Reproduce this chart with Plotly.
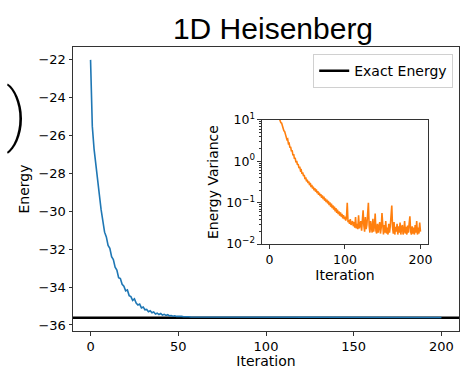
import plotly.graph_objects as go

# ---------------- data ----------------
iterations = list(range(201))

energy = [
    -22.00, -25.50, -26.70, -27.60, -28.40, -29.10, -29.90, -30.50, -31.10, -31.35,
    -31.80, -31.95, -32.40, -32.55, -32.95, -33.10, -33.50, -33.55, -33.85, -33.95,
    -34.20, -34.15, -34.45, -34.50, -34.70, -34.62, -34.85, -34.95, -34.90, -35.10,
    -35.05, -35.20, -35.18, -35.30, -35.25, -35.36, -35.32, -35.42, -35.38, -35.45,
    -35.40, -35.48, -35.44, -35.50, -35.46, -35.52, -35.50, -35.54, -35.52, -35.55,
    -35.54, -35.56, -35.55, -35.57, -35.56, -35.58, -35.57, -35.58, -35.58, -35.59,
    -35.58, -35.59, -35.60, -35.59, -35.60, -35.59, -35.60, -35.61, -35.60, -35.59,
    -35.60, -35.61, -35.60, -35.60, -35.59, -35.61, -35.60, -35.60, -35.61, -35.60,
    -35.59, -35.60, -35.61, -35.60, -35.61, -35.60, -35.60, -35.59, -35.61, -35.60,
    -35.61, -35.60, -35.60, -35.61, -35.60, -35.61, -35.60, -35.59, -35.61, -35.60,
    -35.61, -35.60, -35.61, -35.60, -35.60, -35.61, -35.61, -35.60, -35.61, -35.60,
    -35.61, -35.60, -35.61, -35.61, -35.60, -35.61, -35.60, -35.61, -35.61, -35.60,
    -35.61, -35.61, -35.60, -35.61, -35.60, -35.61, -35.61, -35.60, -35.61, -35.61,
    -35.60, -35.61, -35.61, -35.60, -35.61, -35.61, -35.60, -35.61, -35.61, -35.61,
    -35.60, -35.61, -35.61, -35.61, -35.60, -35.61, -35.61, -35.60, -35.61, -35.61,
    -35.61, -35.60, -35.61, -35.61, -35.61, -35.60, -35.61, -35.61, -35.61, -35.60,
    -35.61, -35.61, -35.61, -35.61, -35.60, -35.61, -35.61, -35.61, -35.60, -35.61,
    -35.61, -35.61, -35.61, -35.60, -35.61, -35.61, -35.61, -35.61, -35.60, -35.61,
    -35.61, -35.61, -35.61, -35.61, -35.60, -35.61, -35.61, -35.61, -35.61, -35.60,
    -35.61, -35.61, -35.61, -35.61, -35.61, -35.60, -35.61, -35.61, -35.61, -35.61,
    -35.61,
]

exact_energy = -35.618

variance = [
    80.0, 60.0, 48.0, 40.0, 34.0, 29.0, 25.0, 22.0, 19.5, 17.5,
    15.5, 14.0, 12.5, 11.2, 10.0, 8.6, 8.4, 6.9, 6.8, 5.5,
    5.3, 4.3, 4.3, 3.4, 3.5, 2.7, 2.75, 2.15, 2.25, 1.75,
    1.85, 1.40, 1.50, 1.15, 1.22, 0.95, 1.02, 0.82, 0.86, 0.69,
    0.74, 0.60, 0.62, 0.50, 0.54, 0.44, 0.47, 0.37, 0.41, 0.33,
    0.36, 0.30, 0.33, 0.265, 0.30, 0.24, 0.27, 0.22, 0.245, 0.20,
    0.225, 0.185, 0.21, 0.17, 0.19, 0.155, 0.175, 0.145, 0.160, 0.132,
    0.150, 0.122, 0.140, 0.112, 0.128, 0.104, 0.118, 0.096, 0.110, 0.088,
    0.102, 0.080, 0.095, 0.074, 0.086, 0.068, 0.080, 0.062, 0.074, 0.057,
    0.068, 0.053, 0.062, 0.049, 0.058, 0.046, 0.054, 0.042, 0.050, 0.040,
    0.046, 0.037, 0.045, 0.100, 0.034, 0.038, 0.031, 0.040, 0.029, 0.033,
    0.036, 0.027, 0.034, 0.025, 0.045, 0.024, 0.031, 0.023, 0.050, 0.024,
    0.028, 0.036, 0.021, 0.040, 0.066, 0.028, 0.020, 0.045, 0.023, 0.029,
    0.050, 0.100, 0.028, 0.019, 0.036, 0.023, 0.019, 0.041, 0.020, 0.027,
    0.055, 0.021, 0.018, 0.031, 0.019, 0.026, 0.034, 0.018, 0.025, 0.056,
    0.020, 0.017, 0.029, 0.019, 0.036, 0.018, 0.025, 0.017, 0.031, 0.019,
    0.027, 0.040, 0.085, 0.026, 0.018, 0.034, 0.017, 0.026, 0.020, 0.031,
    0.017, 0.027, 0.019, 0.033, 0.017, 0.025, 0.029, 0.017, 0.021, 0.036,
    0.018, 0.026, 0.017, 0.028, 0.019, 0.031, 0.047, 0.020, 0.017, 0.027,
    0.018, 0.025, 0.017, 0.029, 0.019, 0.036, 0.017, 0.025, 0.018, 0.033,
    0.020,
]

main_xticks = [0, 50, 100, 150, 200]
main_yticks = [-36, -34, -32, -30, -28, -26, -24, -22]
inset_xticks = [0, 100, 200]
inset_yticks = [0.01, 0.1, 1, 10]
inset_yticklabels = ["10<sup>−2</sup>", "10<sup>−1</sup>", "10<sup>0</sup>", "10<sup>1</sup>"]

x_range = [-10, 210]
y_range = [-36.32, -21.32]

# ---------------- figure ----------------
tick_font = dict(family="DejaVu Sans", size=13, color="black")
label_font = dict(family="DejaVu Sans", size=14, color="black")

fig = go.Figure()

fig.add_trace(go.Scatter(
    x=x_range, y=[exact_energy, exact_energy], mode="lines",
    line=dict(color="black", width=2.6), name="Exact Energy",
    xaxis="x", yaxis="y", showlegend=True,
))
fig.add_trace(go.Scatter(
    x=iterations, y=energy, mode="lines",
    line=dict(color="#1f77b4", width=1.6), name="Energy",
    xaxis="x", yaxis="y", showlegend=False,
))
fig.add_trace(go.Scatter(
    x=iterations, y=variance, mode="lines",
    line=dict(color="#ff7f0e", width=1.6), name="Energy Variance",
    xaxis="x2", yaxis="y2", showlegend=False,
))

minor_vals = [m * 10.0 ** e for e in (-2, -1, 0) for m in range(2, 10)]

axis_common = dict(showline=True, linecolor="#333", linewidth=1, mirror=True,
                   ticks="outside", ticklen=3.5, tickwidth=0.9, tickcolor="#333",
                   showgrid=False, zeroline=False, automargin=False)

fig.update_layout(
    width=475, height=369,
    margin=dict(l=73, r=16, t=47, b=38, autoexpand=False),
    paper_bgcolor="white", plot_bgcolor="white",
    title=dict(text="1D Heisenberg", x=273 / 475, xanchor="center",
               y=1 - 28 / 369, yanchor="middle", yref="container",
               font=dict(family="Liberation Sans", size=30, color="black")),
    xaxis=dict(domain=[0, 1], range=x_range, tickvals=main_xticks,
               tickfont=tick_font,
               title=dict(text="Iteration", font=label_font, standoff=3),
               **axis_common),
    yaxis=dict(domain=[0, 1], range=y_range, tickvals=main_yticks,
               tickfont=tick_font,
               title=dict(text="Energy", font=label_font, standoff=5),
               **axis_common),
    xaxis2=dict(domain=[0.4896, 0.9197], range=x_range, anchor="y2",
                tickvals=inset_xticks, tickfont=dict(family="DejaVu Sans", size=12.5, color="black"),
                title=dict(text="Iteration", font=label_font, standoff=2),
                **axis_common),
    yaxis2=dict(domain=[0.306, 0.743], type="log", range=[-2, 1], anchor="x2",
                tickvals=inset_yticks, ticktext=inset_yticklabels,
                tickfont=dict(family="DejaVu Sans", size=12.5, color="black"),
                title=dict(text="Energy Variance", font=label_font, standoff=4),
                minor=dict(tickvals=minor_vals, ticks="outside", ticklen=2,
                           tickwidth=0.7, tickcolor="#333", showgrid=False),
                **axis_common),
    legend=dict(x=0.985, xanchor="right", y=0.975, yanchor="top",
                bgcolor="rgba(255,255,255,0.9)", bordercolor="#d0d0d0",
                borderwidth=1, font=dict(family="DejaVu Sans", size=14, color="black"),
                itemwidth=30, tracegroupgap=0),
    annotations=[dict(text=")", xref="paper", yref="paper", x=-0.147, y=0.762,
                      xanchor="center", yanchor="middle", showarrow=False,
                      font=dict(family="Roboto", size=68, weight=200, color="black"))],
)

fig.write_html("out.html", config={"displayModeBar": False},
               post_script="document.body.style.margin='0px';")
